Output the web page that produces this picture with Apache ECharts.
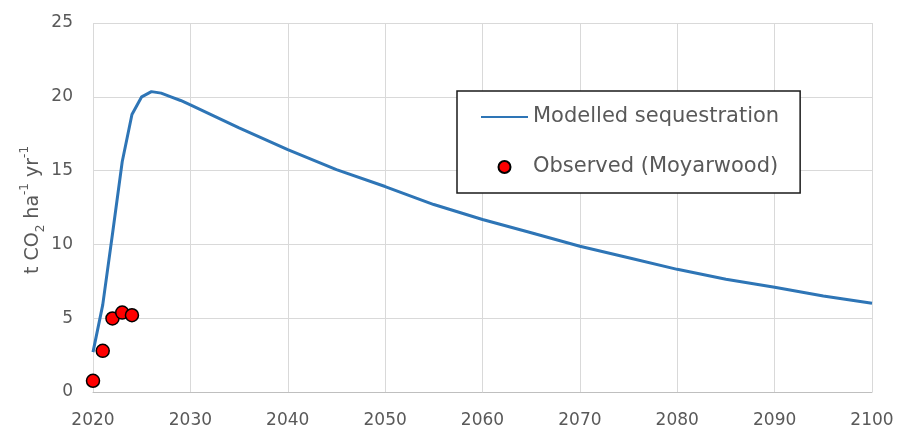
<!DOCTYPE html>
<html>
<head>
<meta charset="utf-8">
<title>Modelled vs observed sequestration</title>
<script src="https://cdn.jsdelivr.net/npm/echarts@6/dist/echarts.min.js"></script>
<style>
  html, body { margin: 0; padding: 0; background: #ffffff; }
  #chart { width: 897px; height: 429px; }
</style>
</head>
<body>
<div id="chart"></div>
<script>
// Modelled annual sequestration (t CO2 per ha per year)
const modelYears = [2020, 2021, 2022, 2023, 2024, 2025, 2026, 2027, 2028, 2029, 2030,
                    2035, 2040, 2045, 2050, 2055, 2060, 2065, 2070, 2075, 2080, 2085, 2090, 2095, 2100];
const modelValues = [2.7, 5.9, 10.7, 15.6, 18.8, 20.0, 20.35, 20.25, 20.0, 19.75, 19.45,
                     17.9, 16.42, 15.07, 13.92, 12.7, 11.69, 10.79, 9.87, 9.1, 8.31, 7.64, 7.09, 6.51, 6.01];

// Field measurements at Moyarwood
const obsYears = [2020, 2021, 2022, 2023, 2024];
const obsValues = [0.76, 2.79, 4.98, 5.38, 5.2];

const xTicks = { min: 2020, max: 2100, step: 10 };
const yTicks = { min: 0, max: 25, step: 5 };

const seriesNames = ['Modelled sequestration', 'Observed (Moyarwood)'];

const FONT = 'DejaVu Sans';
const GREY_TEXT = '#595959';
const LINE_BLUE = '#2E75B6';

const chart = echarts.init(document.getElementById('chart'), null, { renderer: 'canvas' });

chart.setOption({
  animation: false,
  backgroundColor: '#ffffff',
  grid: { left: 93, right: 25, top: 23, bottom: 36, containLabel: false },
  xAxis: {
    type: 'value',
    min: xTicks.min,
    max: xTicks.max,
    interval: xTicks.step,
    axisLine: { show: true, lineStyle: { color: '#BFBFBF', width: 1 } },
    axisTick: { show: false },
    axisLabel: { color: GREY_TEXT, fontFamily: FONT, fontSize: 17, margin: 20, formatter: v => String(v) },
    splitLine: { show: true, lineStyle: { color: '#D9D9D9', width: 1 } }
  },
  yAxis: {
    type: 'value',
    min: yTicks.min,
    max: yTicks.max,
    interval: yTicks.step,
    axisLine: { show: false },
    axisTick: { show: false },
    axisLabel: { color: GREY_TEXT, fontFamily: FONT, fontSize: 17, margin: 20 },
    splitLine: { show: true, lineStyle: { color: '#D9D9D9', width: 1 } }
  },
  legend: {
    orient: 'vertical',
    left: 457,
    top: 91,
    padding: [14, 21, 14, 23],
    itemGap: 26,
    itemWidth: 47,
    itemHeight: 12,
    backgroundColor: '#ffffff',
    borderColor: '#1a1a1a',
    borderWidth: 1.5,
    borderRadius: 0,
    textStyle: { color: GREY_TEXT, fontFamily: FONT, fontSize: 21, lineHeight: 24 },
    data: [
      // plain line key, no marker
      { name: seriesNames[0], itemStyle: { opacity: 0 } },
      { name: seriesNames[1], icon: 'circle' }
    ]
  },
  graphic: [{
    type: 'text',
    x: 33,
    y: 210,
    rotation: Math.PI / 2,
    style: {
      text: '{b|t CO}{sub|2}{b| ha}{sup|-1}{b| yr}{sup|-1}',
      align: 'center',
      verticalAlign: 'middle',
      fill: GREY_TEXT,
      rich: {
        b: { fontFamily: FONT, fontSize: 19, lineHeight: 28, verticalAlign: 'middle', fill: GREY_TEXT },
        sub: { fontFamily: FONT, fontSize: 12, lineHeight: 14, verticalAlign: 'bottom', fill: GREY_TEXT },
        sup: { fontFamily: FONT, fontSize: 12, lineHeight: 16, verticalAlign: 'top', fill: GREY_TEXT }
      }
    }
  }],
  series: [
    {
      name: seriesNames[0],
      type: 'line',
      data: modelYears.map((y, i) => [y, modelValues[i]]),
      symbol: 'none',
      smooth: false,
      lineStyle: { color: LINE_BLUE, width: 3 },
      itemStyle: { color: LINE_BLUE },
      z: 2
    },
    {
      name: seriesNames[1],
      type: 'scatter',
      data: obsYears.map((y, i) => [y, obsValues[i]]),
      symbol: 'circle',
      symbolSize: 13,
      itemStyle: { color: '#FF0000', borderColor: '#000000', borderWidth: 1.5, opacity: 1 },
      clip: false,
      z: 3
    }
  ]
});
</script>
</body>
</html>
